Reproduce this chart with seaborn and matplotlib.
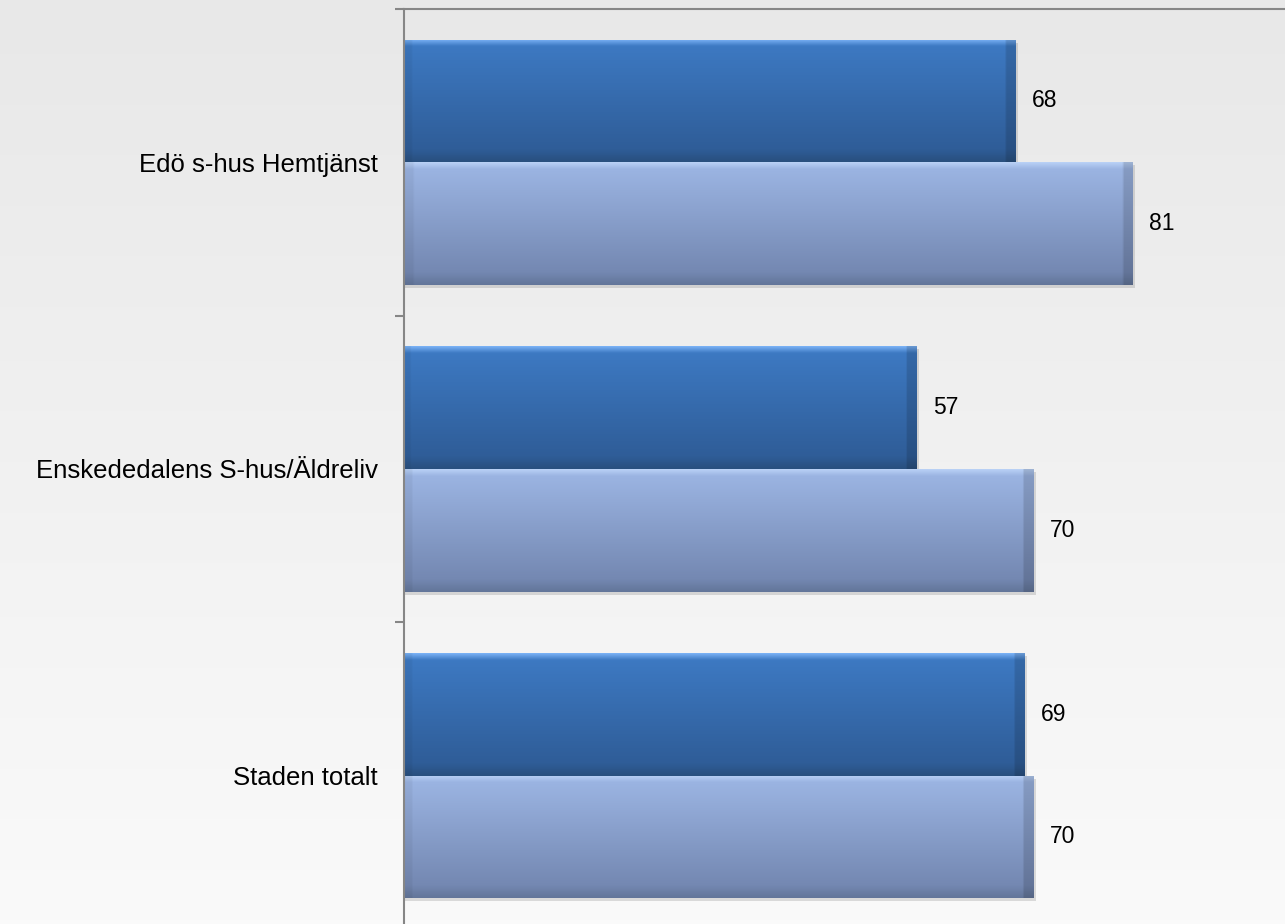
import numpy as np
import pandas as pd
import matplotlib
matplotlib.use("Agg")
import matplotlib.pyplot as plt
from matplotlib.colors import LinearSegmentedColormap
from matplotlib.patches import Rectangle
from matplotlib.ticker import FixedLocator
import seaborn as sns

# Data
categories = ["Edö s-hus Hemtjänst", "Enskededalens S-hus/Äldreliv", "Staden totalt"]
series = ["Serie 1", "Serie 2"]
serie1 = [68, 57, 69]
serie2 = [81, 70, 70]

df = pd.DataFrame({
    "kategori": categories * 2,
    "serie": [series[0]] * len(categories) + [series[1]] * len(categories),
    "varde": serie1 + serie2,
})

sns.set_theme(style="white")
plt.rcParams["font.family"] = ["Liberation Sans", "DejaVu Sans"]

fig = plt.figure(figsize=(12.85, 9.24), dpi=100)

# light grey background gradient
bg = fig.add_axes([0, 0, 1, 1], zorder=0)
bg_cmap = LinearSegmentedColormap.from_list("bg", ["#e8e8e8", "#fafafa"])
bg.imshow(np.linspace(0, 1, 256).reshape(-1, 1), cmap=bg_cmap, aspect="auto",
          extent=[0, 1, 0, 1])
bg.axis("off")

ax = fig.add_axes([0.3144, -0.0054, 0.6856, 0.9957], zorder=1)
ax.patch.set_alpha(0)

sns.barplot(data=df, y="kategori", x="varde", hue="serie", orient="h",
            palette=["#3770b5", "#8fa9d8"], saturation=1, legend=False,
            edgecolor="none", ax=ax)

# glossy gradient fill for each bar
stops = [
    [(0, "#78b0f4"), (0.05, "#3d79c2"), (0.9, "#2f5d98"), (1.0, "#29507f")],
    [(0, "#b8d0f5"), (0.05, "#9bb4e2"), (0.9, "#7488b2"), (1.0, "#63769a")],
]
px_per_unit = 9.0
shadow_dy = 3.0 / 307
for i, cont in enumerate(ax.containers):
    cmap = LinearSegmentedColormap.from_list(f"bar{i}", stops[i])
    for bar in cont:
        x0, y0 = bar.get_x(), bar.get_y()
        w, h = bar.get_width(), bar.get_height()
        # soft drop shadow
        ax.add_patch(Rectangle((x0, y0 + shadow_dy), w + 0.25, h, color="#7a7a7a",
                               alpha=0.25, lw=0, zorder=1.5))
        rows = cmap(np.linspace(0, 1, 120))[:, :3]
        ncols = 300
        xs = np.linspace(0, 1, ncols)
        edge = 9.0 / (w * px_per_unit)
        shade = np.ones(ncols)
        shade[xs > 1 - edge] = 0.86
        shade[xs < 0.012] = 0.95
        img = rows[:, None, :] * shade[None, :, None]
        im = ax.imshow(np.clip(img, 0, 1), extent=[x0, x0 + w, y0 + h, y0],
                       aspect="auto", zorder=2, interpolation="bilinear")
        im.set_clip_path(bar)

for cont in ax.containers:
    ax.bar_label(cont, fmt="{:.0f}", padding=11.5, fontsize=16.5, color="black")

ax.set_xlim(0, 97.9)
ax.set_ylim(2.5, -0.5)
ax.set_xlabel("")
ax.set_ylabel("")

for side in ["bottom", "right"]:
    ax.spines[side].set_visible(False)
for side in ["top", "left"]:
    ax.spines[side].set_color("#868686")
    ax.spines[side].set_linewidth(1.5)

ax.tick_params(axis="x", which="both", bottom=False, top=False,
               labelbottom=False, labeltop=False)
ax.yaxis.set_minor_locator(FixedLocator([-0.5, 0.5, 1.5, 2.5]))
ax.tick_params(axis="y", which="major", length=0, pad=18.7, labelsize=18.5,
               labelcolor="black")
ax.tick_params(axis="y", which="minor", left=True, length=6.5, width=1.5,
               color="#868686")

fig.savefig("out.png", dpi=100)
